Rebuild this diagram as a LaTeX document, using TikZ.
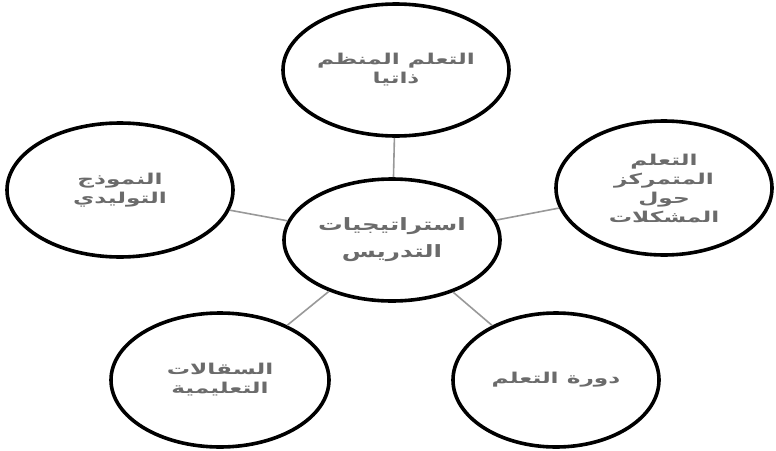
\documentclass[tikz,border=0pt]{standalone}
\usepackage{fontspec}
\usepackage{graphicx}
\usetikzlibrary{shapes.geometric}
\newfontfamily\arabicfont[Script=Arabic,BoldFont={DejaVu Sans Bold}]{DejaVu Sans}
\TeXXeTstate=1
\newcommand{\ar}[1]{\scalebox{1.55}[1]{\beginR #1\endR}}
\newcommand{\arc}[1]{\scalebox{1.45}[1]{\beginR #1\endR}}
\begin{document}
\begin{tikzpicture}[x=1pt,y=-1pt,
  bubble/.style={ellipse, draw=black, line width=3.6pt, fill=white, align=center,
    font=\arabicfont\bfseries\fontsize{15}{19}\selectfont, text=black!58, inner sep=0pt},
  link/.style={draw=black!40, line width=1.6pt}]
\useasboundingbox (0,0) rectangle (776,450);
\node[bubble, minimum width=216, minimum height=122, font=\arabicfont\bfseries\fontsize{17}{27}\selectfont] (c) at (392,240) {\arc{استراتيجيات}\\\arc{التدريس}};
\node[bubble, minimum width=226, minimum height=132] (t) at (396,70) {\ar{التعلم المنظم}\\\ar{ذاتيا}};
\node[bubble, minimum width=226, minimum height=134] (l) at (120,190) {\ar{النموذج}\\\ar{التوليدي}};
\node[bubble, minimum width=216, minimum height=134] (r) at (664,188) {\ar{التعلم}\\\ar{المتمركز}\\\ar{حول}\\\ar{المشكلات}};
\node[bubble, minimum width=218, minimum height=134] (bl) at (220,380) {\ar{السقالات}\\\ar{التعليمية}};
\node[bubble, minimum width=206, minimum height=134] (br) at (556,380) {\ar{دورة التعلم}};
\path[link] (c) -- (t);
\path[link] (c) -- (l);
\path[link] (c) -- (r);
\path[link] (c) -- (bl);
\path[link] (c) -- (br);
\end{tikzpicture}
\end{document}
